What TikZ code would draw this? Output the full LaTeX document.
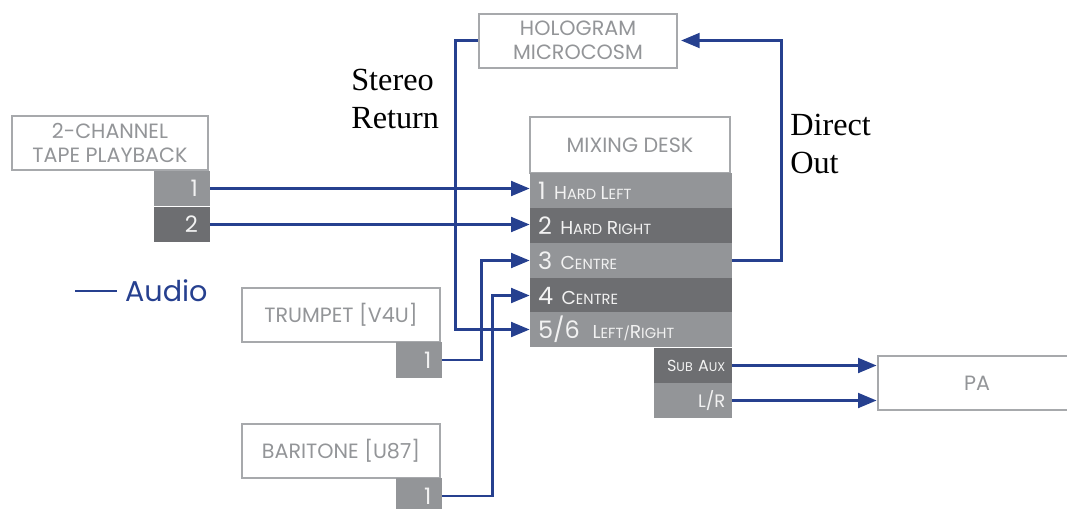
\documentclass[tikz,border=0pt]{standalone}
\usepackage{fontspec}
\setmainfont{Poppins}
\newfontfamily\seriffont{Liberation Serif}
\usetikzlibrary{arrows.meta}
\definecolor{audioblue}{HTML}{26408F}
\definecolor{lightg}{HTML}{939598}
\definecolor{darkg}{HTML}{6D6E71}
\definecolor{edgeg}{HTML}{A7A9AC}
\definecolor{txtg}{HTML}{939598}
\newcommand{\smcap}[2]{{\fontsize{14}{14}\selectfont #1}{\fontsize{11}{11}\selectfont #2}}
\newcommand{\chnum}[1]{{\fontsize{18}{18}\selectfont #1}\hspace{3pt}}

\begin{document}
\begin{tikzpicture}[x=0.75pt,y=-0.75pt,
  box/.style={draw=edgeg, line width=1.5pt, fill=white, text=txtg, align=center,
    font=\fontsize{15.5}{18}\selectfont, inner sep=0pt, minimum width=149pt, minimum height=40.5pt},
  row/.style={fill=#1, text width=139.5pt, inner xsep=6pt, inner ysep=0pt,
    minimum height=26.3pt, align=left, text=white!95!black},
  port/.style={fill=#1, inner xsep=8pt, inner ysep=0pt, minimum height=26.5pt,
    align=right, text=white!95!black, font=\fontsize{17}{17}\selectfont},
  audio/.style={draw=audioblue, line width=2.2pt, -{Triangle[length=14pt,width=11pt]}},
  say/.style={font=\seriffont\fontsize{24.2}{28.5}\selectfont, align=left, inner sep=0pt, anchor=north west}]
  \useasboundingbox (0,0) rectangle (1067,508);

  % sources
  \node[box, minimum width=147pt] (tape) at (110,143) {2-CHANNEL\\TAPE PLAYBACK};
  \node[port=lightg, text width=24pt, inner xsep=9pt] (tp1) at (182,188.5) {1};
  \node[port=darkg, text width=24pt, inner xsep=9pt] (tp2) at (182,224.5) {2};
  \node[box, minimum width=148pt] (trumpet) at (341,314.5) {TRUMPET [V4U]};
  \node[port=lightg, text width=18.5pt] (trp) at (419,360) {1};
  \node[box, minimum width=148pt] (baritone) at (341,451) {BARITONE [U87]};
  \node[port=lightg, text width=18.5pt] (barp) at (419,496) {1};
  \node[box] (holo) at (578,40.5) {HOLOGRAM\\MICROCOSM};

  % mixing desk
  \node[box, minimum width=150pt, minimum height=41.5pt] (desk) at (630,145) {MIXING DESK};
  \node[row=lightg] (r1) at (631,190.5) {\chnum{1} \smcap{H}{ARD} \smcap{L}{EFT}};
  \node[row=darkg] (r2) at (631,225.5) {\chnum{2} \smcap{H}{ARD} \smcap{R}{IGHT}};
  \node[row=lightg] (r3) at (631,260.5) {\chnum{3} \smcap{C}{ENTRE}};
  \node[row=darkg] (r4) at (631,295.5) {\chnum{4} \smcap{C}{ENTRE}};
  \node[row=lightg] (r5) at (631,329.5) {\chnum{5/6}\ \ \smcap{L}{EFT}/\smcap{R}{IGHT}};
  \node[port=darkg, inner xsep=5pt, text width=48.5pt, font=\fontsize{12}{12}\selectfont] (sub) at (693,365.5)
    {S{\fontsize{9.5}{10}\selectfont UB} A{\fontsize{9.5}{10}\selectfont UX}};
  \node[port=lightg, inner xsep=5pt, text width=48.5pt, font=\fontsize{13.5}{14}\selectfont] (lr) at (693,400.5) {L/R};
  \node[box] (pa) at (977,383) {PA};

  % audio lines
  \draw[audio] (tp1.east) -- (tp1.east -| r1.west);
  \draw[audio] (tp2.east) -- (tp2.east -| r2.west);
  \draw[audio] (trp.east) -- ++(39,0) |- (r3.west);
  \draw[audio] (barp.east) -- ++(50,0) |- (r4.west);
  \draw[audio] (holo.west) -- ++(-22,0) |- (r5.west);
  \draw[audio, shorten >=2pt] (r3.east) -- ++(49,0) |- (holo.east);
  \draw[audio] (sub.east) -- (sub.east -| pa.west);
  \draw[audio] (lr.east) -- (lr.east -| pa.west);

  \node[say] (stereo) at (351,69) {Stereo\\Return};
  \node[say] (direct) at (790,114) {Direct\\Out};

  % key
  \coordinate (key) at (75,291);
  \draw[audio, -] (key) -- ++(42,0) node[right, inner sep=5pt, text=audioblue,
    font=\fontsize{21.5}{21.5}\selectfont] (keytext) {Audio};
\end{tikzpicture}
\end{document}
